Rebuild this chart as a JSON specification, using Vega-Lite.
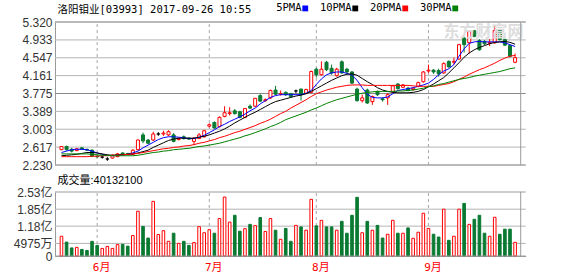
{
  "$schema": "https://vega.github.io/schema/vega-lite/v6.json",
  "autosize": {"type": "none"},
  "width": 470.7,
  "height": 234,
  "padding": {"left": 55, "top": 22, "right": 52.3, "bottom": 20},
  "background": "white",
  "config": {"view": {"stroke": null}, "axis": {"labelOverlap": false}},
  "datasets": {
    "k": [
      {"i":0,"o":2.56,"h":2.64,"l":2.55,"c":2.63,"vol":0.78,"dir":"up","m5":2.50,"m10":2.43,"m20":2.41,"m30":2.47},
      {"i":1,"o":2.63,"h":2.65,"l":2.54,"c":2.56,"vol":0.55,"dir":"down","m5":2.53,"m10":2.44,"m20":2.41,"m30":2.47},
      {"i":2,"o":2.57,"h":2.60,"l":2.50,"c":2.53,"vol":0.32,"dir":"down","m5":2.56,"m10":2.45,"m20":2.41,"m30":2.47},
      {"i":3,"o":2.54,"h":2.60,"l":2.53,"c":2.58,"vol":0.34,"dir":"up","m5":2.57,"m10":2.46,"m20":2.41,"m30":2.47},
      {"i":4,"o":2.60,"h":2.62,"l":2.56,"c":2.57,"vol":0.26,"dir":"down","m5":2.57,"m10":2.48,"m20":2.41,"m30":2.47},
      {"i":5,"o":2.57,"h":2.58,"l":2.54,"c":2.55,"vol":0.22,"dir":"down","m5":2.56,"m10":2.50,"m20":2.41,"m30":2.47},
      {"i":6,"o":2.55,"h":2.57,"l":2.40,"c":2.42,"vol":0.58,"dir":"down","m5":2.53,"m10":2.50,"m20":2.42,"m30":2.46},
      {"i":7,"o":2.42,"h":2.46,"l":2.38,"c":2.41,"vol":0.42,"dir":"down","m5":2.49,"m10":2.49,"m20":2.42,"m30":2.45},
      {"i":8,"o":2.40,"h":2.43,"l":2.37,"c":2.40,"vol":0.30,"dir":"flat","m5":2.46,"m10":2.47,"m20":2.43,"m30":2.44},
      {"i":9,"o":2.36,"h":2.40,"l":2.32,"c":2.36,"vol":0.38,"dir":"flat","m5":2.44,"m10":2.45,"m20":2.43,"m30":2.44},
      {"i":10,"o":2.38,"h":2.46,"l":2.37,"c":2.44,"vol":0.30,"dir":"up","m5":2.43,"m10":2.44,"m20":2.44,"m30":2.43},
      {"i":11,"o":2.41,"h":2.49,"l":2.40,"c":2.47,"vol":0.45,"dir":"up","m5":2.44,"m10":2.45,"m20":2.44,"m30":2.43},
      {"i":12,"o":2.49,"h":2.50,"l":2.45,"c":2.46,"vol":0.46,"dir":"down","m5":2.45,"m10":2.45,"m20":2.45,"m30":2.43},
      {"i":13,"o":2.48,"h":2.49,"l":2.44,"c":2.46,"vol":0.39,"dir":"down","m5":2.46,"m10":2.46,"m20":2.46,"m30":2.43},
      {"i":14,"o":2.46,"h":2.57,"l":2.45,"c":2.55,"vol":0.81,"dir":"up","m5":2.49,"m10":2.47,"m20":2.47,"m30":2.43},
      {"i":15,"o":2.56,"h":2.78,"l":2.55,"c":2.77,"vol":1.77,"dir":"up","m5":2.53,"m10":2.49,"m20":2.48,"m30":2.44},
      {"i":16,"o":2.88,"h":2.93,"l":2.70,"c":2.75,"vol":1.17,"dir":"down","m5":2.60,"m10":2.52,"m20":2.50,"m30":2.46},
      {"i":17,"o":2.77,"h":2.79,"l":2.68,"c":2.70,"vol":0.71,"dir":"down","m5":2.66,"m10":2.55,"m20":2.52,"m30":2.48},
      {"i":18,"o":2.77,"h":2.95,"l":2.75,"c":2.90,"vol":2.16,"dir":"up","m5":2.72,"m10":2.61,"m20":2.54,"m30":2.50},
      {"i":19,"o":2.90,"h":2.94,"l":2.86,"c":2.90,"vol":0.85,"dir":"flat","m5":2.78,"m10":2.66,"m20":2.56,"m30":2.51},
      {"i":20,"o":2.90,"h":2.97,"l":2.86,"c":2.92,"vol":1.00,"dir":"up","m5":2.82,"m10":2.71,"m20":2.58,"m30":2.53},
      {"i":21,"o":2.88,"h":2.98,"l":2.86,"c":2.95,"vol":0.58,"dir":"up","m5":2.84,"m10":2.76,"m20":2.59,"m30":2.54},
      {"i":22,"o":2.88,"h":2.92,"l":2.72,"c":2.74,"vol":0.90,"dir":"down","m5":2.84,"m10":2.79,"m20":2.61,"m30":2.56},
      {"i":23,"o":2.78,"h":2.82,"l":2.76,"c":2.80,"vol":0.50,"dir":"up","m5":2.83,"m10":2.81,"m20":2.62,"m30":2.57},
      {"i":24,"o":2.84,"h":2.87,"l":2.78,"c":2.80,"vol":0.58,"dir":"down","m5":2.82,"m10":2.81,"m20":2.64,"m30":2.58},
      {"i":25,"o":2.81,"h":2.83,"l":2.77,"c":2.79,"vol":0.42,"dir":"down","m5":2.80,"m10":2.81,"m20":2.65,"m30":2.59},
      {"i":26,"o":2.74,"h":2.83,"l":2.66,"c":2.81,"vol":0.53,"dir":"up","m5":2.80,"m10":2.81,"m20":2.67,"m30":2.61},
      {"i":27,"o":2.80,"h":2.92,"l":2.79,"c":2.88,"vol":1.16,"dir":"up","m5":2.83,"m10":2.83,"m20":2.70,"m30":2.63},
      {"i":28,"o":2.84,"h":2.99,"l":2.82,"c":2.97,"vol":0.92,"dir":"up","m5":2.87,"m10":2.85,"m20":2.72,"m30":2.64},
      {"i":29,"o":3.07,"h":3.13,"l":3.04,"c":3.10,"vol":1.04,"dir":"up","m5":2.93,"m10":2.88,"m20":2.75,"m30":2.66},
      {"i":30,"o":3.15,"h":3.17,"l":3.01,"c":3.03,"vol":0.90,"dir":"down","m5":2.99,"m10":2.92,"m20":2.78,"m30":2.68},
      {"i":31,"o":3.06,"h":3.28,"l":3.04,"c":3.26,"vol":1.48,"dir":"up","m5":3.06,"m10":2.96,"m20":2.82,"m30":2.70},
      {"i":32,"o":3.28,"h":3.50,"l":3.26,"c":3.36,"vol":2.33,"dir":"up","m5":3.11,"m10":3.01,"m20":2.85,"m30":2.73},
      {"i":33,"o":3.34,"h":3.48,"l":3.30,"c":3.36,"vol":1.34,"dir":"up","m5":3.17,"m10":3.07,"m20":2.89,"m30":2.76},
      {"i":34,"o":3.40,"h":3.44,"l":3.32,"c":3.34,"vol":1.61,"dir":"down","m5":3.22,"m10":3.14,"m20":2.93,"m30":2.79},
      {"i":35,"o":3.38,"h":3.40,"l":3.24,"c":3.26,"vol":0.98,"dir":"down","m5":3.27,"m10":3.20,"m20":2.96,"m30":2.82},
      {"i":36,"o":3.26,"h":3.46,"l":3.24,"c":3.45,"vol":1.08,"dir":"up","m5":3.33,"m10":3.26,"m20":3.00,"m30":2.86},
      {"i":37,"o":3.50,"h":3.54,"l":3.44,"c":3.46,"vol":1.25,"dir":"down","m5":3.40,"m10":3.32,"m20":3.04,"m30":2.89},
      {"i":38,"o":3.50,"h":3.68,"l":3.48,"c":3.67,"vol":1.20,"dir":"up","m5":3.46,"m10":3.37,"m20":3.08,"m30":2.93},
      {"i":39,"o":3.73,"h":3.76,"l":3.59,"c":3.61,"vol":1.52,"dir":"down","m5":3.55,"m10":3.43,"m20":3.13,"m30":2.97},
      {"i":40,"o":3.62,"h":3.67,"l":3.60,"c":3.64,"vol":0.97,"dir":"up","m5":3.62,"m10":3.49,"m20":3.17,"m30":3.01},
      {"i":41,"o":3.68,"h":3.86,"l":3.66,"c":3.84,"vol":1.48,"dir":"up","m5":3.69,"m10":3.55,"m20":3.22,"m30":3.06},
      {"i":42,"o":3.85,"h":3.94,"l":3.74,"c":3.76,"vol":1.02,"dir":"down","m5":3.73,"m10":3.60,"m20":3.28,"m30":3.10},
      {"i":43,"o":3.76,"h":3.84,"l":3.73,"c":3.77,"vol":0.66,"dir":"up","m5":3.75,"m10":3.63,"m20":3.34,"m30":3.15},
      {"i":44,"o":3.80,"h":3.82,"l":3.72,"c":3.75,"vol":1.09,"dir":"down","m5":3.75,"m10":3.66,"m20":3.39,"m30":3.21},
      {"i":45,"o":3.77,"h":3.79,"l":3.69,"c":3.71,"vol":0.58,"dir":"down","m5":3.75,"m10":3.69,"m20":3.46,"m30":3.25},
      {"i":46,"o":3.83,"h":3.86,"l":3.78,"c":3.83,"vol":1.21,"dir":"flat","m5":3.75,"m10":3.72,"m20":3.52,"m30":3.29},
      {"i":47,"o":3.87,"h":3.88,"l":3.62,"c":3.75,"vol":1.15,"dir":"down","m5":3.75,"m10":3.74,"m20":3.58,"m30":3.33},
      {"i":48,"o":3.78,"h":3.88,"l":3.76,"c":3.86,"vol":1.02,"dir":"up","m5":3.78,"m10":3.77,"m20":3.64,"m30":3.37},
      {"i":49,"o":3.80,"h":4.27,"l":3.78,"c":4.25,"vol":2.24,"dir":"up","m5":3.84,"m10":3.82,"m20":3.71,"m30":3.42},
      {"i":50,"o":4.30,"h":4.33,"l":4.12,"c":4.18,"vol":1.19,"dir":"down","m5":3.97,"m10":3.88,"m20":3.77,"m30":3.46},
      {"i":51,"o":4.18,"h":4.47,"l":4.16,"c":4.30,"vol":1.41,"dir":"up","m5":4.09,"m10":3.94,"m20":3.81,"m30":3.51},
      {"i":52,"o":4.45,"h":4.48,"l":4.26,"c":4.29,"vol":1.15,"dir":"down","m5":4.18,"m10":4.00,"m20":3.85,"m30":3.56},
      {"i":53,"o":4.32,"h":4.40,"l":4.18,"c":4.22,"vol":1.15,"dir":"down","m5":4.22,"m10":4.06,"m20":3.88,"m30":3.60},
      {"i":54,"o":4.16,"h":4.33,"l":4.14,"c":4.30,"vol":1.02,"dir":"up","m5":4.24,"m10":4.11,"m20":3.91,"m30":3.64},
      {"i":55,"o":4.46,"h":4.49,"l":4.20,"c":4.22,"vol":1.37,"dir":"down","m5":4.24,"m10":4.16,"m20":3.93,"m30":3.67},
      {"i":56,"o":4.30,"h":4.33,"l":4.20,"c":4.24,"vol":0.90,"dir":"down","m5":4.21,"m10":4.19,"m20":3.95,"m30":3.70},
      {"i":57,"o":4.24,"h":4.26,"l":3.98,"c":4.00,"vol":1.61,"dir":"down","m5":4.17,"m10":4.20,"m20":3.96,"m30":3.73},
      {"i":58,"o":3.87,"h":3.90,"l":3.60,"c":3.62,"vol":2.32,"dir":"down","m5":4.06,"m10":4.17,"m20":3.96,"m30":3.76},
      {"i":59,"o":3.62,"h":3.75,"l":3.58,"c":3.68,"vol":0.92,"dir":"up","m5":3.90,"m10":4.10,"m20":3.96,"m30":3.78},
      {"i":60,"o":3.85,"h":3.88,"l":3.55,"c":3.57,"vol":1.37,"dir":"down","m5":3.76,"m10":4.03,"m20":3.95,"m30":3.80},
      {"i":61,"o":3.60,"h":3.73,"l":3.53,"c":3.71,"vol":1.02,"dir":"up","m5":3.69,"m10":3.97,"m20":3.95,"m30":3.81},
      {"i":62,"o":3.82,"h":3.84,"l":3.72,"c":3.75,"vol":1.21,"dir":"down","m5":3.68,"m10":3.90,"m20":3.95,"m30":3.82},
      {"i":63,"o":3.66,"h":3.69,"l":3.60,"c":3.64,"vol":0.71,"dir":"down","m5":3.68,"m10":3.85,"m20":3.95,"m30":3.82},
      {"i":64,"o":3.68,"h":3.78,"l":3.53,"c":3.75,"vol":0.86,"dir":"up","m5":3.70,"m10":3.82,"m20":3.95,"m30":3.82},
      {"i":65,"o":3.81,"h":3.96,"l":3.79,"c":3.94,"vol":1.41,"dir":"up","m5":3.77,"m10":3.80,"m20":3.95,"m30":3.82},
      {"i":66,"o":3.98,"h":4.00,"l":3.86,"c":3.88,"vol":0.90,"dir":"down","m5":3.84,"m10":3.79,"m20":3.95,"m30":3.83},
      {"i":67,"o":3.91,"h":3.98,"l":3.89,"c":3.96,"vol":0.90,"dir":"up","m5":3.86,"m10":3.79,"m20":3.95,"m30":3.83},
      {"i":68,"o":3.89,"h":3.92,"l":3.82,"c":3.84,"vol":1.11,"dir":"down","m5":3.88,"m10":3.79,"m20":3.95,"m30":3.84},
      {"i":69,"o":3.86,"h":3.91,"l":3.84,"c":3.89,"vol":0.70,"dir":"up","m5":3.90,"m10":3.80,"m20":3.94,"m30":3.85},
      {"i":70,"o":3.93,"h":4.03,"l":3.91,"c":4.01,"vol":0.94,"dir":"up","m5":3.93,"m10":3.82,"m20":3.93,"m30":3.87},
      {"i":71,"o":4.03,"h":4.26,"l":4.01,"c":4.24,"vol":1.69,"dir":"up","m5":3.96,"m10":3.86,"m20":3.93,"m30":3.89},
      {"i":72,"o":4.26,"h":4.40,"l":4.22,"c":4.28,"vol":1.09,"dir":"up","m5":4.00,"m10":3.92,"m20":3.93,"m30":3.92},
      {"i":73,"o":4.28,"h":4.30,"l":4.20,"c":4.24,"vol":0.86,"dir":"down","m5":4.08,"m10":3.98,"m20":3.93,"m30":3.94},
      {"i":74,"o":4.27,"h":4.31,"l":4.14,"c":4.20,"vol":0.75,"dir":"down","m5":4.18,"m10":4.05,"m20":3.95,"m30":3.97},
      {"i":75,"o":4.22,"h":4.45,"l":4.20,"c":4.42,"vol":1.85,"dir":"up","m5":4.26,"m10":4.12,"m20":3.97,"m30":3.99},
      {"i":76,"o":4.47,"h":4.49,"l":4.33,"c":4.35,"vol":0.62,"dir":"down","m5":4.31,"m10":4.22,"m20":3.99,"m30":4.02},
      {"i":77,"o":4.45,"h":4.55,"l":4.40,"c":4.47,"vol":0.78,"dir":"up","m5":4.40,"m10":4.33,"m20":4.03,"m30":4.05},
      {"i":78,"o":4.52,"h":4.85,"l":4.50,"c":4.83,"vol":1.85,"dir":"up","m5":4.58,"m10":4.44,"m20":4.08,"m30":4.08},
      {"i":79,"o":4.97,"h":5.00,"l":4.66,"c":4.83,"vol":2.08,"dir":"down","m5":4.74,"m10":4.56,"m20":4.13,"m30":4.10},
      {"i":80,"o":4.87,"h":5.14,"l":4.64,"c":5.12,"vol":1.25,"dir":"up","m5":4.86,"m10":4.65,"m20":4.19,"m30":4.12},
      {"i":81,"o":5.13,"h":5.15,"l":4.99,"c":5.01,"vol":1.45,"dir":"down","m5":4.89,"m10":4.72,"m20":4.24,"m30":4.15},
      {"i":82,"o":4.92,"h":4.95,"l":4.70,"c":4.72,"vol":1.61,"dir":"down","m5":4.90,"m10":4.77,"m20":4.29,"m30":4.17},
      {"i":83,"o":4.90,"h":4.93,"l":4.82,"c":4.85,"vol":0.90,"dir":"down","m5":4.89,"m10":4.81,"m20":4.33,"m30":4.19},
      {"i":84,"o":4.86,"h":4.95,"l":4.80,"c":4.88,"vol":0.78,"dir":"up","m5":4.89,"m10":4.85,"m20":4.38,"m30":4.21},
      {"i":85,"o":4.87,"h":5.24,"l":4.85,"c":5.14,"vol":1.53,"dir":"up","m5":4.89,"m10":4.88,"m20":4.43,"m30":4.23},
      {"i":86,"o":5.15,"h":5.17,"l":4.92,"c":4.94,"vol":0.86,"dir":"down","m5":4.89,"m10":4.89,"m20":4.49,"m30":4.25},
      {"i":87,"o":4.94,"h":4.96,"l":4.80,"c":4.82,"vol":1.06,"dir":"down","m5":4.87,"m10":4.90,"m20":4.54,"m30":4.28},
      {"i":88,"o":4.81,"h":4.83,"l":4.55,"c":4.58,"vol":1.06,"dir":"down","m5":4.83,"m10":4.88,"m20":4.58,"m30":4.31},
      {"i":89,"o":4.45,"h":4.64,"l":4.43,"c":4.55,"vol":0.54,"dir":"up","m5":4.79,"m10":4.84,"m20":4.60,"m30":4.33}
    ],
    "months": [
      {"i":7,"m":"6月"},
      {"i":29,"m":"7月"},
      {"i":50,"m":"8月"},
      {"i":72,"m":"9月"}
    ]
  },
  "data": {"name": "k"},
  "layer": [
    {
      "data": {"values": [{"p": 2.23}, {"p": 2.617}, {"p": 3.003}, {"p": 3.389}, {"p": 4.161}, {"p": 4.547}, {"p": 4.933}, {"p": 5.32}]},
      "mark": {"type": "rule", "color": "#b4b4b4", "strokeWidth": 1},
      "encoding": {
        "y": {"field": "p", "type": "quantitative", "scale": {"domain": [2.23, 5.32], "range": [143, 0], "nice": false, "zero": false},
          "axis": {
            "orient": "left",
            "values": [2.23, 2.617, 3.003, 3.389, 3.775, 4.161, 4.547, 4.933, 5.32],
            "format": ".3f",
            "grid": false,
            "ticks": false, "domain": true, "domainColor": "#9a9a9a", "domainWidth": 1,
            "labelPadding": 3, "labelFont": "Liberation Sans", "labelFontSize": 12, "labelColor": "#333333",
            "labelFlush": false, "labelOverlap": false, "labelBound": false,
            "title": "洛阳钼业[03993] 2017-09-26 10:55",
            "titleAngle": 0, "titleAlign": "left", "titleBaseline": "middle",
            "titleX": 2, "titleY": -13,
            "titleFont": "DejaVu Sans Mono, Noto Sans CJK SC", "titleFontSize": 10.5, "titleFontWeight": "normal", "titleColor": "#000000"
          }}
      }
    },
    {
      "data": {"values": [{"v": 0.4975}, {"v": 1.18}, {"v": 1.85}]},
      "mark": {"type": "rule", "color": "#b4b4b4", "strokeWidth": 1},
      "encoding": {
        "y": {"field": "v", "type": "quantitative", "scale": {"domain": [0, 2.53], "range": [234, 170], "nice": false},
          "axis": {
            "orient": "left",
            "values": [0, 0.4975, 1.18, 1.85, 2.53],
            "labelExpr": "datum.value == 0 ? '0' : (datum.value < 1 ? '4975万' : format(datum.value, '.2f') + '亿')",
            "grid": false,
            "ticks": false, "domain": true, "domainColor": "#9a9a9a",
            "labelPadding": 3, "labelFont": "Liberation Sans, Noto Sans CJK SC", "labelFontSize": 12, "labelColor": "#333333",
            "labelFlush": false, "labelOverlap": false, "labelBound": false,
            "title": "成交量:40132100",
            "titleAngle": 0, "titleAlign": "left", "titleBaseline": "middle",
            "titleX": 2, "titleY": 158,
            "titleFont": "Liberation Sans, Noto Sans CJK SC", "titleFontSize": 11, "titleFontWeight": "normal", "titleColor": "#000000"
          }}
      }
    },
    {
      "data": {"name": "months"},
      "mark": {"type": "rule", "color": "#a8a8a8", "strokeDash": [3, 3], "strokeWidth": 1},
      "encoding": {
        "x": {"field": "i", "type": "quantitative", "scale": {"domain": [-0.29, 90.1], "nice": false, "zero": false},
          "axis": {
            "orient": "bottom", "values": [7, 29, 50, 72],
            "labelExpr": "datum.value == 7 ? '6月' : datum.value == 29 ? '7月' : datum.value == 50 ? '8月' : '9月'",
            "grid": false, "ticks": false, "domain": true, "domainColor": "#9a9a9a",
            "labelColor": "#ff0000", "labelFont": "DejaVu Sans Mono, Noto Sans CJK SC", "labelFontSize": 11,
            "labelPadding": 5, "labelOffset": 4, "labelFlush": false, "labelOverlap": false, "title": null
          }},
        "y": {"datum": 2.23, "type": "quantitative", "scale": {"domain": [2.23, 5.32], "range": [143, 0], "nice": false, "zero": false}, "axis": null},
        "y2": {"datum": 5.32}
      }
    },
    {
      "data": {"name": "months"},
      "mark": {"type": "rule", "color": "#a8a8a8", "strokeDash": [3, 3], "strokeWidth": 1},
      "encoding": {
        "x": {"field": "i", "type": "quantitative", "scale": {"domain": [-0.29, 90.1], "nice": false, "zero": false}, "axis": null},
        "y": {"datum": 0, "type": "quantitative", "scale": {"domain": [0, 2.53], "range": [234, 170], "nice": false}, "axis": null},
        "y2": {"datum": 2.53}
      }
    },
    {
      "data": {"values": [{"p": 3.775}]},
      "mark": {"type": "rule", "color": "#8a8a8a", "strokeWidth": 1},
      "encoding": {
        "y": {"field": "p", "type": "quantitative", "scale": {"domain": [2.23, 5.32], "range": [143, 0], "nice": false, "zero": false}, "axis": null}
      }
    },
    {
      "mark": {"type": "rule", "strokeWidth": 1},
      "encoding": {
        "x": {"field": "i", "type": "quantitative", "scale": {"domain": [-0.29, 90.1], "nice": false, "zero": false}, "axis": null},
        "y": {"field": "l", "type": "quantitative", "scale": {"domain": [2.23, 5.32], "range": [143, 0], "nice": false, "zero": false}, "axis": null},
        "y2": {"field": "h"},
        "stroke": {"field": "dir", "type": "nominal", "scale": {"domain": ["up", "down", "flat"], "range": ["#ff0000", "#0a7a32", "#000000"]}, "legend": null}
      }
    },
    {
      "mark": {"type": "bar", "width": 3, "strokeWidth": 1},
      "encoding": {
        "x": {"field": "i", "type": "quantitative", "scale": {"domain": [-0.29, 90.1], "nice": false, "zero": false}, "axis": null},
        "y": {"field": "o", "type": "quantitative", "scale": {"domain": [2.23, 5.32], "range": [143, 0], "nice": false, "zero": false}, "axis": null},
        "y2": {"field": "c"},
        "fill": {"field": "dir", "type": "nominal", "scale": {"domain": ["up", "down", "flat"], "range": ["#ffffff", "#0a7a32", "#000000"]}, "legend": null},
        "stroke": {"field": "dir", "type": "nominal", "scale": {"domain": ["up", "down", "flat"], "range": ["#ff0000", "#0a7a32", "#000000"]}, "legend": null}
      }
    },
    {
      "transform": [{"fold": ["m5", "m10", "m20", "m30"], "as": ["ma", "val"]}],
      "mark": {"type": "line", "strokeWidth": 1},
      "encoding": {
        "x": {"field": "i", "type": "quantitative", "scale": {"domain": [-0.29, 90.1], "nice": false, "zero": false}, "axis": null},
        "y": {"field": "val", "type": "quantitative", "scale": {"domain": [2.23, 5.32], "range": [143, 0], "nice": false, "zero": false}, "axis": null},
        "color": {"field": "ma", "type": "nominal",
          "scale": {"domain": ["m5", "m10", "m20", "m30"], "range": ["#0000ff", "#000000", "#ff0000", "#008000"]},
          "legend": {
            "orient": "none", "legendX": 245, "legendY": -19, "direction": "horizontal", "columns": 4,
            "title": null, "padding": 0,
            "symbolType": "square", "symbolSize": 8, "symbolStrokeWidth": 3,
            "labelFont": "DejaVu Sans Mono", "labelFontSize": 10.5, "labelColor": "#000000",
            "labelAlign": "right", "labelOffset": -9, "columnPadding": 6,
            "labelExpr": "{'m5':'5PMA','m10':'10PMA','m20':'20PMA','m30':'30PMA'}[datum.label]"
          }}
      }
    },
    {
      "data": {"values": [{"i": 82.8, "p": 5.11, "t": "东方财富网"}]},
      "mark": {"type": "text", "font": "Noto Sans CJK SC", "fontSize": 16, "fontWeight": "bold", "color": "#dddddd"},
      "encoding": {
        "x": {"field": "i", "type": "quantitative", "scale": {"domain": [-0.29, 90.1], "nice": false, "zero": false}, "axis": null},
        "y": {"field": "p", "type": "quantitative", "scale": {"domain": [2.23, 5.32], "range": [143, 0], "nice": false, "zero": false}, "axis": null},
        "text": {"field": "t"}
      }
    },
    {
      "data": {"values": [{"p": 2.23}, {"p": 5.32}]},
      "mark": {"type": "rule", "color": "#9a9a9a", "strokeWidth": 1},
      "encoding": {
        "y": {"field": "p", "type": "quantitative", "scale": {"domain": [2.23, 5.32], "range": [143, 0], "nice": false, "zero": false}, "axis": null}
      }
    },
    {
      "data": {"values": [{"i": 90.1, "a": 2.23, "b": 5.32}]},
      "mark": {"type": "rule", "color": "#9a9a9a", "strokeWidth": 1},
      "encoding": {
        "x": {"field": "i", "type": "quantitative", "scale": {"domain": [-0.29, 90.1], "nice": false, "zero": false}, "axis": null},
        "y": {"field": "a", "type": "quantitative", "scale": {"domain": [2.23, 5.32], "range": [143, 0], "nice": false, "zero": false}, "axis": null},
        "y2": {"field": "b"}
      }
    },
    {
      "mark": {"type": "bar", "width": 2.6, "strokeWidth": 1},
      "encoding": {
        "x": {"field": "i", "type": "quantitative", "scale": {"domain": [-0.29, 90.1], "nice": false, "zero": false}, "axis": null},
        "y": {"field": "vol", "type": "quantitative", "scale": {"domain": [0, 2.53], "range": [234, 170], "nice": false}, "axis": null},
        "fill": {"field": "dir", "type": "nominal", "scale": {"domain": ["up", "down", "flat"], "range": ["#ffffff", "#0a7a32", "#ffffff"]}, "legend": null},
        "stroke": {"field": "dir", "type": "nominal", "scale": {"domain": ["up", "down", "flat"], "range": ["#ff0000", "#0a7a32", "#ff0000"]}, "legend": null}
      }
    },
    {
      "data": {"values": [{"v": 0}, {"v": 2.53}]},
      "mark": {"type": "rule", "color": "#9a9a9a", "strokeWidth": 1},
      "encoding": {
        "y": {"field": "v", "type": "quantitative", "scale": {"domain": [0, 2.53], "range": [234, 170], "nice": false}, "axis": null}
      }
    },
    {
      "data": {"values": [{"i": 90.1, "a": 0, "b": 2.53}]},
      "mark": {"type": "rule", "color": "#9a9a9a", "strokeWidth": 1},
      "encoding": {
        "x": {"field": "i", "type": "quantitative", "scale": {"domain": [-0.29, 90.1], "nice": false, "zero": false}, "axis": null},
        "y": {"field": "a", "type": "quantitative", "scale": {"domain": [0, 2.53], "range": [234, 170], "nice": false}, "axis": null},
        "y2": {"field": "b"}
      }
    }
  ],
  "resolve": {"scale": {"y": "independent", "fill": "independent", "stroke": "independent"}, "axis": {"y": "independent", "x": "independent"}}
}
